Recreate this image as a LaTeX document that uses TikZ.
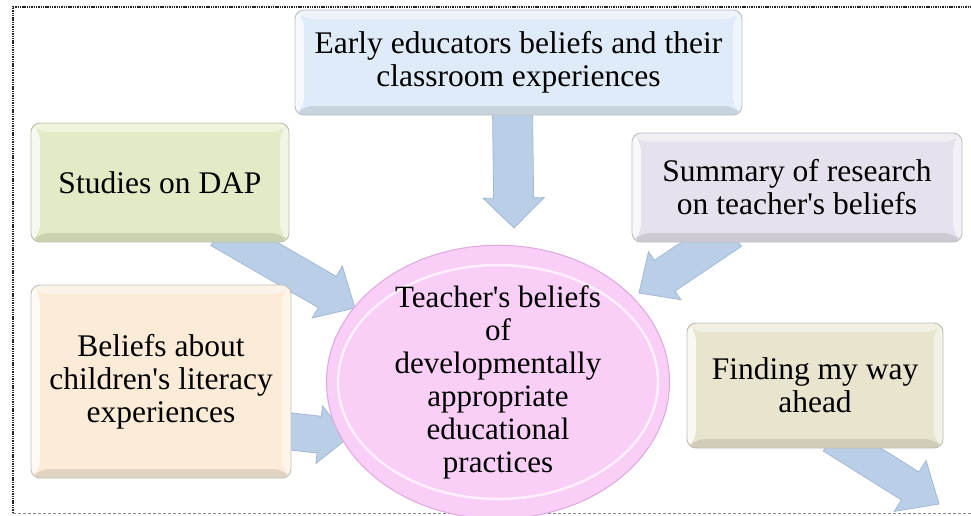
\documentclass[tikz,border=0pt]{standalone}
\usepackage{fontspec}
\setmainfont[Ligatures=TeXOff]{Liberation Serif}
\usetikzlibrary{calc,shapes.geometric}
\pgfdeclarelayer{back}
\pgfdeclarelayer{bg}
\pgfsetlayers{back,bg,main}
\definecolor{cTop}{HTML}{DFEBF8}
\definecolor{cGreen}{HTML}{E2EBC5}
\definecolor{cPurple}{HTML}{E6E1EC}
\definecolor{cPeach}{HTML}{FBEBD7}
\definecolor{cKhaki}{HTML}{E8E4CE}
\definecolor{cPink}{HTML}{F9CEF7}
\definecolor{cPinkEdge}{HTML}{E0A8DD}
\definecolor{cArrow}{HTML}{B9CEE7}
\definecolor{cArrowEdge}{HTML}{A3B9D3}
\newcommand\blockarrow[5]{%
  \path ($(#2)!#5!(#1)$) coordinate (hb);
  \filldraw[arrowstyle]
    ($(#1)!#3!90:(#2)$) -- ($(hb)!#3!90:(#2)$) -- ($(hb)!#4!90:(#2)$) -- (#2)
    -- ($(hb)!#4!-90:(#2)$) -- ($(hb)!#3!-90:(#2)$) -- ($(#1)!#3!-90:(#2)$) -- cycle;
}
\tikzset{
  arrowstyle/.style={fill=cArrow, draw=cArrowEdge, line width=0.8pt, line join=miter},
  bevelbox/.style={rectangle, rounded corners=9pt, fill=#1, draw=#1!60!black!55,
    line width=0.9pt, align=center, inner sep=0pt,
    font=\fontsize{31.5}{33}\selectfont,
    path picture={
      \coordinate (pnw) at (path picture bounding box.north west);
      \coordinate (pse) at (path picture bounding box.south east);
      \coordinate (pne) at (pnw -| pse);
      \coordinate (psw) at (pnw |- pse);
      \fill[white, opacity=0.45] (pnw) -- (pne) -- ($(pne)+(-9,9)$) -- ($(pnw)+(9,9)$) -- cycle;
      \fill[white, opacity=0.75] (pnw) -- ($(pnw)+(9,9)$) -- ($(psw)+(9,-9)$) -- (psw) -- cycle;
      \fill[white, opacity=0.55] (pne) -- ($(pne)+(-9,9)$) -- ($(pse)+(-9,-9)$) -- (pse) -- cycle;
      \fill[black, opacity=0.10] (psw) -- ($(psw)+(9,-9)$) -- ($(pse)+(-9,-9)$) -- (pse) -- cycle;
    }},
  centreell/.style={ellipse, fill=cPink, draw=cPinkEdge, line width=1pt, align=center,
    inner sep=0pt, font=\fontsize{31}{33}\selectfont,
    path picture={
      \draw[white, opacity=0.7, line width=2.5pt]
        (path picture bounding box.center) ellipse [x radius=160, y radius=117];
    }},
  borderdot/.style={line width=2pt, dash pattern=on 1.4pt off 0.9pt, black!85},
  borderdash/.style={line width=0.8pt, dash pattern=on 3pt off 2pt, black!45}
}
\begin{document}
\begin{tikzpicture}[x=1pt, y=-1pt]
\useasboundingbox (0,0) rectangle (971,515);
\begin{pgfonlayer}{back}
  \fill[white] (0,0) rectangle (971,515);
\end{pgfonlayer}
% frame
\coordinate (fnw) at (13,7);
\coordinate (fne) at (971,7);
\coordinate (fsw) at (13,513);
\coordinate (fse) at (971,513);
\draw[borderdash] (fsw) -- (fse);
\draw[borderdot] (fsw) -- (fnw) -- (fne);
% nodes
\node[bevelbox=cTop, minimum width=447pt, minimum height=105pt] (early) at (518.5,62.5)
  {Early educators beliefs and their\\classroom experiences};
\node[bevelbox=cGreen, minimum width=258pt, minimum height=119pt] (dap) at (160,182.5)
  {Studies on DAP};
\node[bevelbox=cPurple, minimum width=330pt, minimum height=109pt] (summary) at (797,187.5)
  {Summary of research\\on teacher's beliefs};
\node[bevelbox=cPeach, minimum width=260pt, minimum height=193pt] (literacy) at (161,381.5)
  {Beliefs about\\children's literacy\\experiences};
\node[bevelbox=cKhaki, minimum width=256pt, minimum height=125pt] (ahead) at (815,385.5)
  {Finding my way\\ahead};
\node[centreell, minimum width=343pt, minimum height=255pt] (centre) at (498,382)
  {Teacher's beliefs\\of\\developmentally\\appropriate\\educational\\practices};
% arrow end points
\coordinate (e1s) at ($(early.south)+(-6,-8)$);
\coordinate (e1t) at (514,228);
\coordinate (e2s) at (220,230);
\coordinate (e2t) at (355,308);
\coordinate (e3s) at (731,231);
\coordinate (e3t) at (639,293);
\coordinate (e4s) at (270,429);
\coordinate (e4t) at (348,438);
\coordinate (e5s) at (832,437);
\coordinate (e5t) at (939,504);
\begin{pgfonlayer}{bg}
  \blockarrow{e1s}{e1t}{20pt}{30.5pt}{30pt}
  \blockarrow{e2s}{e2t}{18pt}{30pt}{32pt}
  \blockarrow{e3s}{e3t}{18.5pt}{29pt}{31pt}
  \blockarrow{e4s}{e4t}{18.5pt}{29pt}{29pt}
  \blockarrow{e5s}{e5t}{16.5pt}{30pt}{34pt}
\end{pgfonlayer}
\end{tikzpicture}
\end{document}
